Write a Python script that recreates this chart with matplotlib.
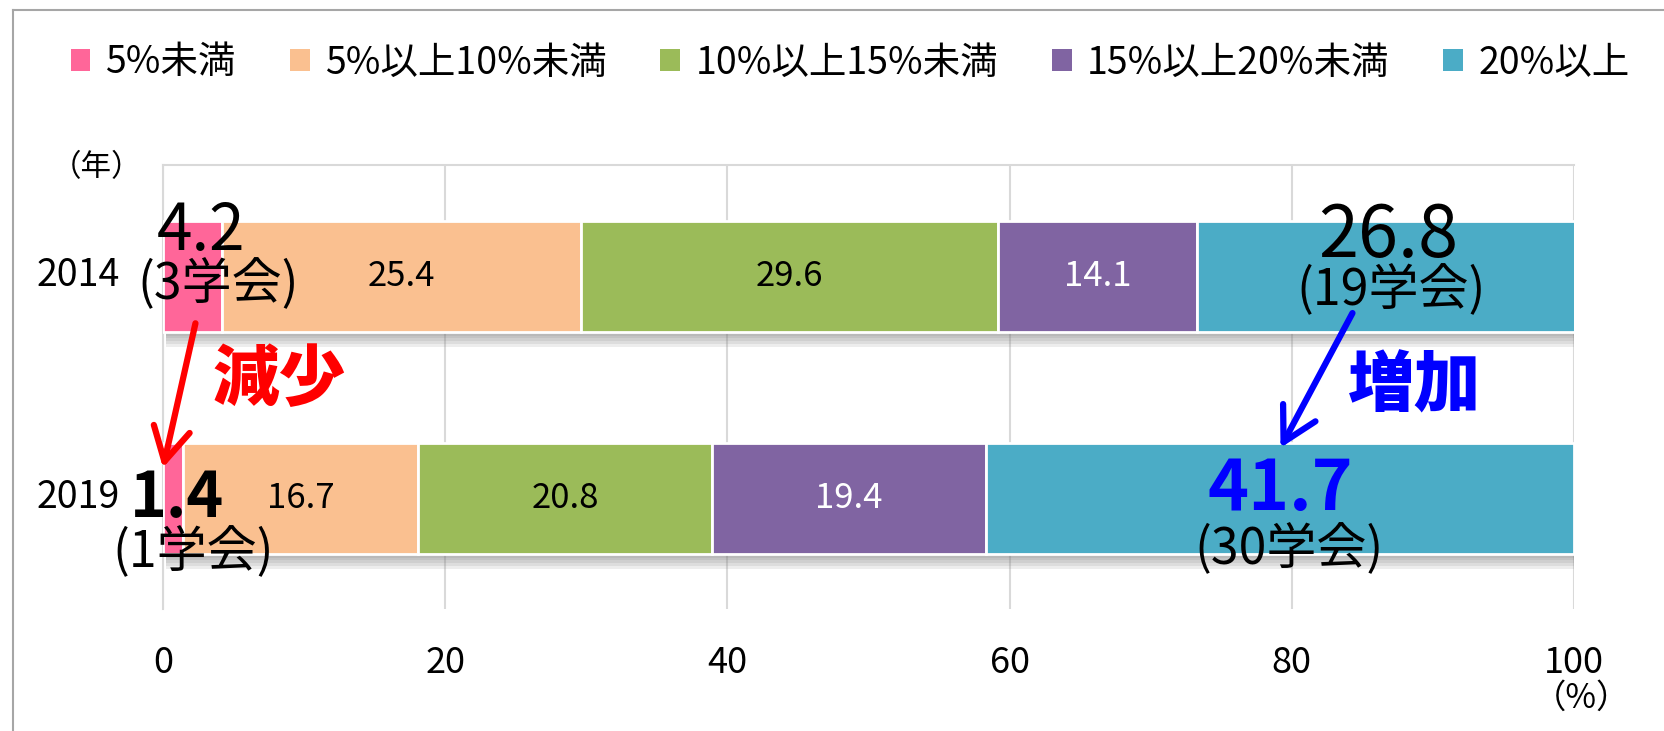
import matplotlib
matplotlib.use("Agg")
import matplotlib.pyplot as plt
import matplotlib.patheffects as pe
from matplotlib.lines import Line2D
from matplotlib.patches import Patch
from matplotlib.transforms import ScaledTranslation

plt.rcParams['font.family'] = ['Noto Sans CJK JP', 'DejaVu Sans']

# データ
years = ['2014', '2019']
categories = ['5%未満', '5%以上10%未満', '10%以上15%未満', '15%以上20%未満', '20%以上']
share_2014 = [4.2, 25.4, 29.6, 14.1, 26.8]
share_2019 = [1.4, 16.7, 20.8, 19.4, 41.7]
societies_2014 = [3, 19]   # 5%未満, 20%以上 の学会数
societies_2019 = [1, 30]
xticks = [0, 20, 40, 60, 80, 100]

colors = ['#FF6699', '#FAC090', '#9BBB59', '#8064A2', '#4BACC6']
label_colors = [None, 'black', 'black', 'white', None]

W, H = 1664, 731
fig = plt.figure(figsize=(W / 100, H / 100), dpi=100)
ax = fig.add_axes([163 / W, 1 - 609 / H, (1574 - 163) / W, (609 - 165) / H])

ypos = [1, 0]
# ぼかした影の代わりに薄い影を重ねる
shadow = [pe.SimplePatchShadow(offset=(2, -k), shadow_rgbFace='#777777', alpha=0.13)
          for k in (3, 5, 7, 9, 11)] + [pe.Normal()]

left = [0, 0]
for i, cat in enumerate(categories):
    vals = [share_2014[i], share_2019[i]]
    bars = ax.barh(ypos, vals, left=left, height=0.5, color=colors[i],
                   edgecolor='white', linewidth=2, zorder=3)
    for b in bars:
        b.set_path_effects(shadow)
    if label_colors[i]:
        for y, v, l in zip(ypos, vals, left):
            ax.text(l + v / 2, y, f'{v:.1f}', ha='center', va='center',
                    fontsize=25, color=label_colors[i], zorder=5)
    left = [l + v for l, v in zip(left, vals)]

# 目立たせる数値
ax.text(2.7, 1.20, f'{share_2014[0]:.1f}', fontsize=46, ha='center', va='center', zorder=6)
ax.text(3.9, 0.96, f'({societies_2014[0]}学会)', fontsize=36, ha='center', va='center', zorder=6)
ax.text(86.8, 1.18, f'{share_2014[4]:.1f}', fontsize=52, ha='center', va='center', zorder=6)
ax.text(87.0, 0.93, f'({societies_2014[1]}学会)', fontsize=36, ha='center', va='center', zorder=6)
ax.text(1.0, 0.0, f'{share_2019[0]:.1f}', fontsize=45, fontweight='bold', ha='center', va='center', zorder=6)
ax.text(2.1, -0.25, f'({societies_2019[0]}学会)', fontsize=36, ha='center', va='center', zorder=6)
ax.text(79.2, 0.035, f'{share_2019[4]:.1f}', fontsize=50, fontweight='bold', color='#0000FF',
        ha='center', va='center', zorder=6)
ax.text(79.8, -0.235, f'({societies_2019[1]}学会)', fontsize=36, ha='center', va='center', zorder=6)

ax.text(8.2, 0.53, '減少', fontsize=48, fontweight='black', color='#FF0000', ha='center', va='center')
ax.text(88.7, 0.50, '増加', fontsize=48, fontweight='black', color='#0000FF', ha='center', va='center')

arrow = dict(arrowstyle='->,head_length=1.0,head_width=0.55', lw=4.5, mutation_scale=24,
             shrinkA=0, shrinkB=0)
ax.annotate('', xy=(0, 0.136), xytext=(2.3, 0.787), arrowprops=dict(arrow, color='#FF0000'), zorder=7)
ax.annotate('', xy=(79.2, 0.226), xytext=(84.3, 0.833), arrowprops=dict(arrow, color='#0000FF'), zorder=7)

# 軸
ax.set_xlim(0, 100)
ax.set_ylim(-0.5, 1.5)
ax.set_xticks(xticks)
ax.set_yticks(ypos, years)
ax.tick_params(axis='x', length=0, pad=26, labelsize=26)
ax.tick_params(axis='y', length=0, pad=31, labelsize=27)
for lbl in ax.get_yticklabels():
    lbl.set_transform(lbl.get_transform() + ScaledTranslation(0, 0.05, fig.dpi_scale_trans))
ax.set_axisbelow(True)
ax.xaxis.grid(True, color='#D9D9D9', lw=1.5)
for s in ['top', 'left']:
    ax.spines[s].set_color('#D9D9D9')
    ax.spines[s].set_linewidth(1.5)
for s in ['right', 'bottom']:
    ax.spines[s].set_visible(False)

fig.text(97 / W, 1 - 168 / H, '（年）', fontsize=22, ha='center', va='center')
fig.text(1582 / W, 1 - 698 / H, '（%）', fontsize=24, ha='center', va='center')

handles = [Patch(facecolor=c) for c in colors]
fig.legend(handles, categories, loc='center', bbox_to_anchor=(850 / W, 1 - 63 / H), ncol=5,
           frameon=False, fontsize=27, handlelength=0.53, handleheight=0.53,
           handletextpad=0.4, columnspacing=1.44)

# 外枠
fig.add_artist(Line2D([13 / W, 13 / W], [0, 1 - 10 / H], transform=fig.transFigure, color='#A6A6A6', lw=1.5))
fig.add_artist(Line2D([13 / W, 1], [1 - 10 / H, 1 - 10 / H], transform=fig.transFigure, color='#A6A6A6', lw=1.5))

fig.savefig('out.png', dpi=100)
